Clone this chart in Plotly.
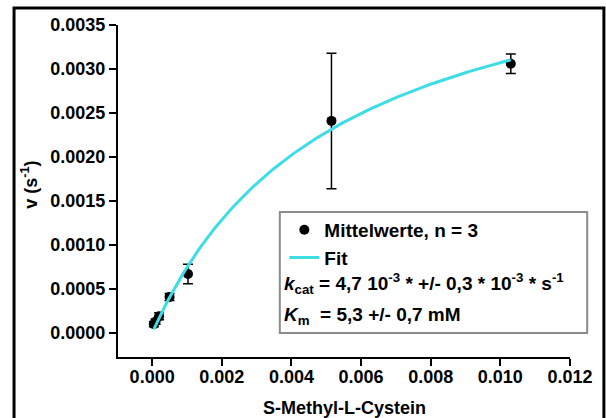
import plotly.graph_objects as go

# Mean initial rates (n = 3) against substrate concentration
conc = [0.00005, 0.0001, 0.0002, 0.0005, 0.00103, 0.00515, 0.0103]
rate = [0.00010, 0.00013, 0.00019, 0.00041, 0.00067, 0.00241, 0.00306]
rate_err = [0.00003, 0.00003, 0.00004, 0.00004, 0.00011, 0.00077, 0.00011]

# Michaelis-Menten fit parameters (kcat in s^-1, Km in M)
kcat = 4.7e-3
km = 5.3e-3
fit_x = [0.00005 + i * (0.0103 - 0.00005) / 200 for i in range(201)]
fit_y = [kcat * s / (km + s) for s in fit_x]

x_ticks = [0.000, 0.002, 0.004, 0.006, 0.008, 0.010, 0.012]
y_ticks = [0.0000, 0.0005, 0.0010, 0.0015, 0.0020, 0.0025, 0.0030, 0.0035]

FONT = "Liberation Sans, Arial, sans-serif"
FS = 18
LFS = 19

fig = go.Figure()
fig.add_trace(go.Scatter(
    x=conc, y=rate, mode="markers", name="<b>Mittelwerte, n = 3</b>",
    marker=dict(color="black", size=10),
    error_y=dict(type="data", array=rate_err, color="black", thickness=1.5, width=5),
))
fig.add_trace(go.Scatter(
    x=fit_x, y=fit_y, mode="lines", name="<b>Fit</b>",
    line=dict(color="#3ddde6", width=3),
))

axis_common = dict(
    showline=True, linecolor="black", linewidth=2, mirror=False,
    ticks="outside", ticklen=7, tickwidth=2, tickcolor="black",
    showgrid=False, zeroline=False, automargin=False,
    tickfont=dict(family=FONT, size=FS, color="black"),
    minor=dict(ticks="outside", ticklen=4, tickwidth=1.5, tickcolor="black", nticks=2),
)

fig.update_xaxes(
    range=[-0.00098, 0.012], tickvals=x_ticks,
    ticktext=[f"<b>{v:.3f}</b>" for v in x_ticks],
    ticklabelstandoff=-5,
    **axis_common,
)
fig.update_yaxes(
    range=[-0.000273, 0.0035], tickvals=y_ticks,
    ticktext=[f"<b>{v:.4f}</b>" for v in y_ticks],
    **axis_common,
)

fig.update_layout(
    width=606, height=418,
    margin=dict(l=118, r=36, t=25, b=61),
    paper_bgcolor="white", plot_bgcolor="white",
    font=dict(family=FONT, color="black"),
    showlegend=True,
    legend=dict(x=0.368, y=0.44, xanchor="left", yanchor="top",
                bgcolor="rgba(0,0,0,0)", borderwidth=0,
                font=dict(family=FONT, size=LFS, color="black"),
                tracegroupgap=0),
    shapes=[
        # legend frame
        dict(type="rect", xref="paper", yref="paper",
             x0=0.358, x1=1.038, y0=0.072, y1=0.437,
             line=dict(color="#8c8c8c", width=2), fillcolor="rgba(0,0,0,0)", layer="below"),
        # outer border
        dict(type="rect", xref="paper", yref="paper",
             x0=-0.230, x1=1.075, y0=-0.2, y1=1.051,
             line=dict(color="black", width=3), fillcolor="rgba(0,0,0,0)"),
    ],
    annotations=[
        # axis titles
        dict(xref="paper", yref="paper", x=0.5, y=-0.153, xanchor="center", yanchor="middle",
             showarrow=False, text="<b>S-Methyl-L-Cystein</b>",
             font=dict(family=FONT, size=FS, color="black")),
        dict(xref="paper", yref="paper", x=-0.196, y=0.52, xanchor="center", yanchor="middle",
             showarrow=False, textangle=-90, text="<b>v (s<sup>-1</sup>)</b>",
             font=dict(family=FONT, size=FS, color="black")),
        # fit parameters
        dict(xref="paper", yref="paper", x=0.363, y=0.222, xanchor="left", yanchor="middle",
             showarrow=False, align="left",
             text="<b><i>k</i><sub>cat</sub> = 4,7 10<sup>-3</sup> * +/- 0,3 * 10<sup>-3</sup> * s<sup>-1</sup></b>",
             font=dict(family=FONT, size=LFS, color="black")),
        dict(xref="paper", yref="paper", x=0.363, y=0.124, xanchor="left", yanchor="middle",
             showarrow=False, align="left",
             text="<b><i>K</i><sub>m</sub>  = 5,3 +/- 0,7 mM</b>",
             font=dict(family=FONT, size=LFS, color="black")),
    ],
)

fig.write_html("out.html")
